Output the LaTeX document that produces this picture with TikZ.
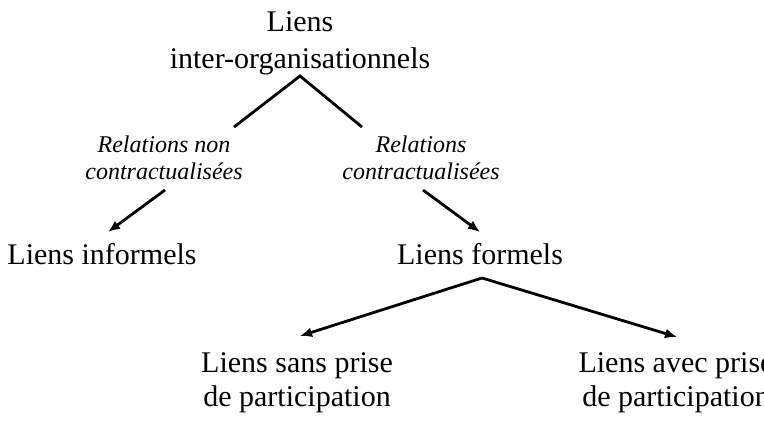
\documentclass[tikz,border=0pt]{standalone}
\usepackage{fontspec}
\setmainfont{Liberation Serif}
\usetikzlibrary{arrows.meta}
\tikzset{
  main/.style={align=center,inner sep=0pt,font=\fontsize{15}{18.5}\selectfont},
  mainb/.style={align=center,inner sep=0pt,font=\fontsize{15}{17}\selectfont},
  rel/.style={align=center,inner sep=0pt,font=\fontsize{12}{13.5}\selectfont\itshape},
  conn/.style={line width=1.4pt,line join=miter},
  arr/.style={conn,-{Latex[length=6pt,width=5pt]}}
}
\begin{document}
\begin{tikzpicture}[x=0.5pt,y=-0.5pt]
\useasboundingbox (0,0) rectangle (764,424);
\clip (0,0) rectangle (764,424);
\node[main] (top) at (300,43) {Liens\\inter-organisationnels};
\node[rel] (rnc) at (164,158) {Relations non\\contractualisées};
\node[rel] (rc) at (421,158) {Relations\\contractualisées};
\node[main] (inf) at (102,254) {Liens informels};
\node[main] (form) at (480,254) {Liens formels};
\node[mainb] (sans) at (297,383) {Liens sans prise\\de participation};
\node[mainb] (avec) at (676,383) {Liens avec prise\\de participation};
\coordinate (ap1) at (300,76);
\coordinate (a1) at (234,127);
\coordinate (a2) at (362,127);
\coordinate (b1) at (165,190);
\coordinate (b2) at (108,232);
\coordinate (c1) at (423,190);
\coordinate (c2) at (480,232);
\coordinate (ap2) at (482,278);
\coordinate (d1) at (300,336);
\coordinate (d2) at (677,337);
\draw[conn] (a1) -- (ap1) -- (a2);
\draw[arr] (b1) -- (b2);
\draw[arr] (c1) -- (c2);
\draw[arr] (ap2) -- (d1);
\draw[arr] (ap2) -- (d2);
\end{tikzpicture}
\end{document}
